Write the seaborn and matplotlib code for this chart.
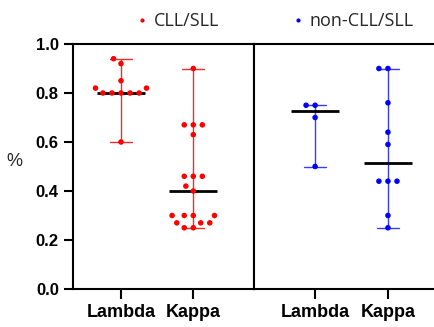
import numpy as np
import pandas as pd
import matplotlib
matplotlib.use("Agg")
import matplotlib.pyplot as plt
from matplotlib.lines import Line2D
import seaborn as sns

# ---- data ----
categories = ["Lambda", "Kappa"]
cll_lambda = [0.94, 0.92, 0.85, 0.82, 0.82, 0.80, 0.80, 0.80, 0.80, 0.80, 0.60]
cll_kappa = [0.90, 0.67, 0.67, 0.67, 0.63, 0.46, 0.46, 0.46, 0.42, 0.40,
             0.30, 0.30, 0.30, 0.30, 0.27, 0.27, 0.27, 0.25, 0.25]
non_lambda = [0.75, 0.75, 0.70, 0.50]
non_kappa = [0.90, 0.90, 0.76, 0.64, 0.59, 0.44, 0.44, 0.44, 0.30, 0.25]
groups = ["CLL/SLL", "non-CLL/SLL"]
yticks = [0.0, 0.2, 0.4, 0.6, 0.8, 1.0]

dot_colors = {"CLL/SLL": "#ff0000", "non-CLL/SLL": "#0000ff"}
line_colors = {"CLL/SLL": "#e83030", "non-CLL/SLL": "#3c3cf0"}


def frame(lam, kap):
    return pd.DataFrame({
        "chain": ["Lambda"] * len(lam) + ["Kappa"] * len(kap),
        "value": list(lam) + list(kap),
    })


data = {"CLL/SLL": frame(cll_lambda, cll_kappa),
        "non-CLL/SLL": frame(non_lambda, non_kappa)}

sns.set_theme(style="ticks")
plt.rcParams["font.family"] = ["Liberation Sans", "DejaVu Sans"]

W, H = 435, 327
fig = plt.figure(figsize=(W / 100, H / 100), dpi=100)

ax_l = fig.add_axes([72.7 / W, 1 - 289 / H, 181.3 / W, 245 / H])
ax_r = fig.add_axes([254 / W, 1 - 289 / H, 181.3 / W, 245 / H])
xlims = {"CLL/SLL": (-0.668, 1.84), "non-CLL/SLL": (-0.839, 1.65)}

for ax, g in zip([ax_l, ax_r], groups):
    df = data[g]
    # range (min-max) whiskers with caps
    sns.pointplot(data=df, x="chain", y="value", order=categories,
                  estimator="median", errorbar=("pi", 100), capsize=0.31,
                  color=line_colors[g], linestyle="none", marker="",
                  err_kws={"linewidth": 1.0, "zorder": 2}, ax=ax)
    # median line
    sns.boxplot(data=df, x="chain", y="value", order=categories, width=0.66,
                showbox=False, showcaps=False, showfliers=False,
                whiskerprops={"visible": False},
                medianprops={"color": "black", "linewidth": 2.0, "zorder": 3},
                ax=ax)
    # individual points
    sns.swarmplot(data=df, x="chain", y="value", order=categories,
                  color=dot_colors[g], size=4.0, linewidth=2.2,
                  edgecolor="none", zorder=4, ax=ax)
    ax.set_xlim(*xlims[g])
    ax.set_ylim(0, 1.0)
    ax.set_xlabel("")
    ax.set_ylabel("")
    for s in ax.spines.values():
        s.set_linewidth(1.5)
        s.set_color("black")
    ax.tick_params(axis="x", length=7, width=1.5, pad=3.5, labelsize=13,
                   colors="black")
    for lab in ax.get_xticklabels():
        lab.set_fontweight("bold")

ax_l.set_yticks(yticks)
ax_l.set_yticklabels([f"{t:.1f}" for t in yticks], fontweight="bold")
ax_l.tick_params(axis="y", length=6.5, width=1.5, pad=3.5, labelsize=12,
                 colors="black")
ax_l.set_ylabel("%", rotation=0, fontsize=13, va="center", ha="center")
ax_l.yaxis.set_label_coords(-0.324, 0.522)

ax_r.set_yticks([])
ax_r.spines["right"].set_visible(False)

# legends above each panel
for g, xc in zip(groups, [178 / W, 353.5 / W]):
    h = Line2D([], [], marker="o", linestyle="none", markersize=3,
               markerfacecolor=dot_colors[g], markeredgecolor="none")
    fig.legend([h], [g], loc="center", bbox_to_anchor=(xc, 1 - 21 / H),
               frameon=False, handlelength=0.5, handletextpad=0.4,
               prop={"family": "Open Sans", "size": 13})

fig.savefig("out.png", dpi=100)
